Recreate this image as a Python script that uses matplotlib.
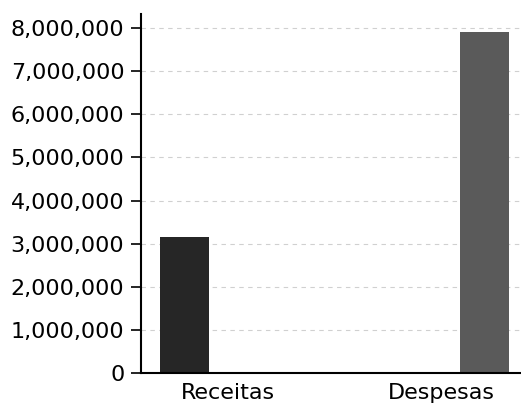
import numpy as np
import matplotlib
matplotlib.use("Agg")
import matplotlib.pyplot as plt
from matplotlib.ticker import FuncFormatter

categories = ["Receitas", "Despesas"]
values = [3160000, 7905000]
bar_colors = ["#262626", "#5a5a5a"]
y_ticks = [0, 1000000, 2000000, 3000000, 4000000, 5000000, 6000000, 7000000, 8000000]

fig = plt.figure(figsize=(5.21, 4.08), dpi=100)
ax = fig.add_axes([0.2706, 0.0858, 0.7294, 0.881])

x = np.arange(len(categories))
offsets = [-0.2, 0.2]  # bars sit outside of the category ticks
ax.bar(x + np.array(offsets), values, width=0.23, color=bar_colors, zorder=2)

ax.set_xticks(x)
ax.set_xticklabels(categories, fontsize=16)
ax.set_yticks(y_ticks)
ax.yaxis.set_major_formatter(FuncFormatter(lambda v, p: f"{int(v):,}"))
ax.tick_params(axis="y", labelsize=16, length=7, width=1.2, pad=5)
ax.tick_params(axis="x", length=0, pad=7)
ax.set_xlim(-0.404, 1.371)
ax.set_ylim(0, 8.34e6)

ax.grid(axis="y", linestyle=(0, (4, 4)), color="#d0d0d0", linewidth=0.8, zorder=0)
ax.spines["top"].set_visible(False)
ax.spines["right"].set_visible(False)
ax.spines["left"].set_linewidth(1.5)
ax.spines["bottom"].set_linewidth(1.5)

fig.savefig("out.png", dpi=100)
